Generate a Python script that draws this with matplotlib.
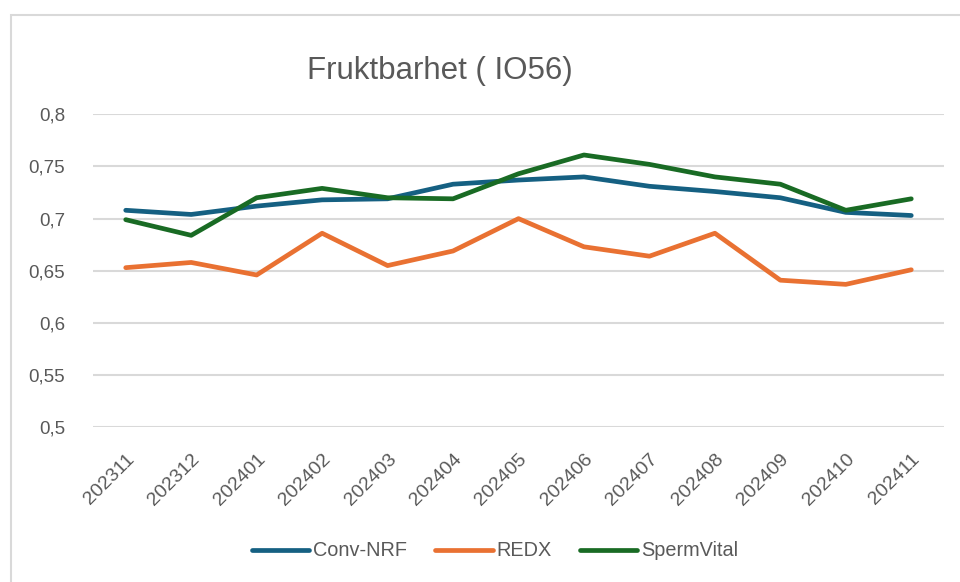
import matplotlib
matplotlib.use("Agg")
import matplotlib.pyplot as plt
from matplotlib.patches import Rectangle

months = ["202311", "202312", "202401", "202402", "202403", "202404", "202405",
          "202406", "202407", "202408", "202409", "202410", "202411"]
conv_nrf = [0.708, 0.704, 0.712, 0.718, 0.719, 0.733, 0.737,
            0.740, 0.731, 0.726, 0.720, 0.706, 0.703]
redx = [0.653, 0.658, 0.646, 0.686, 0.655, 0.669, 0.700,
        0.673, 0.664, 0.686, 0.641, 0.637, 0.651]
spermvital = [0.699, 0.684, 0.720, 0.729, 0.720, 0.719, 0.743,
              0.761, 0.752, 0.740, 0.733, 0.708, 0.719]
yticks = [0.5, 0.55, 0.6, 0.65, 0.7, 0.75, 0.8]

plt.rcParams['font.family'] = ['Liberation Sans', 'DejaVu Sans']
W, H = 960, 582
fig = plt.figure(figsize=(W / 100, H / 100), dpi=100)
ax = fig.add_axes([93 / W, 1 - 427.3 / H, (944 - 93) / W, (427.3 - 114.3) / H])

x = range(len(months))
ax.plot(x, conv_nrf, color='#156082', lw=3.4, label='Conv-NRF', solid_capstyle='round')
ax.plot(x, redx, color='#E97132', lw=3.4, label='REDX', solid_capstyle='round')
ax.plot(x, spermvital, color='#196B24', lw=3.4, label='SpermVital', solid_capstyle='round')

ax.set_xlim(-0.5, len(months) - 0.5)
ax.set_ylim(0.5, 0.8)
ax.set_yticks(yticks)
ax.set_yticklabels([str(v).replace('.', ',') for v in yticks])
ax.yaxis.grid(True, color='#D9D9D9', lw=1.5)
ax.set_axisbelow(True)
for s in ax.spines.values():
    s.set_visible(False)
ax.tick_params(axis='both', length=0, labelsize=13.5, colors='#595959')
ax.tick_params(axis='y', pad=20)
ax.set_xticks(list(x))
ax.set_xticklabels(months, rotation=45, ha='right', rotation_mode='anchor')
ax.tick_params(axis='x', pad=17, labelsize=14)

fig.text(440 / W, 1 - 71 / H, 'Fruktbarhet ( IO56)', ha='center', va='center',
         fontsize=22.5, color='#595959')

leg = fig.legend(loc='center', bbox_to_anchor=(495 / W, 1 - 551 / H), ncol=3, frameon=False,
                 fontsize=14.3, handlelength=2.9, handletextpad=0.2, columnspacing=1.4)
for t in leg.get_texts():
    t.set_color('#595959')

fig.add_artist(Rectangle((11 / W, -0.1), 1.2, 1 - 15 / H + 0.1, transform=fig.transFigure,
                         fill=False, edgecolor='#D9D9D9', lw=1.5))

fig.savefig('out.png', dpi=100)
